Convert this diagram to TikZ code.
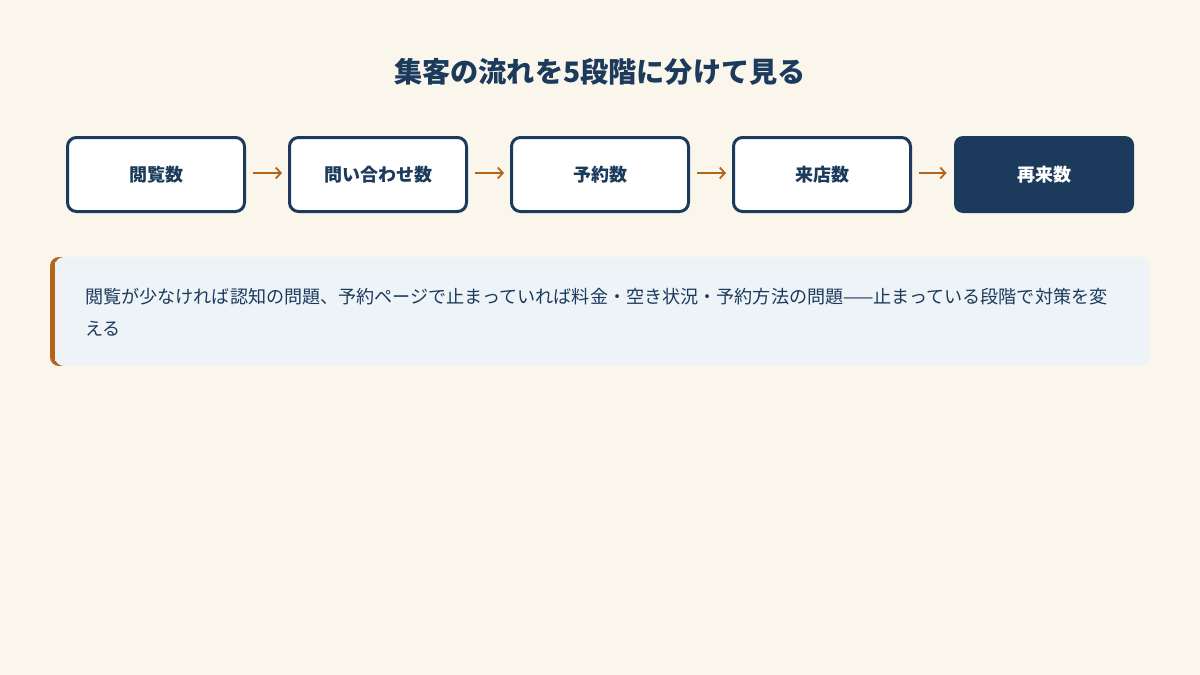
\documentclass[tikz,border=0pt]{standalone}
\usepackage{fontspec}
\setmainfont{Noto Sans CJK JP}
\usetikzlibrary{arrows.meta}
\definecolor{bgc}{HTML}{FAF6EC}
\definecolor{navy}{HTML}{1B3A5C}
\definecolor{orng}{HTML}{B5651A}
\definecolor{callbg}{HTML}{EEF3F8}
\tikzset{
  stagebox/.style={draw=navy, line width=3pt, fill=white, rounded corners=9pt,
    minimum width=177pt, minimum height=74pt, inner sep=0pt,
    font=\fontsize{18pt}{20pt}\selectfont\bfseries, text=navy},
  lastbox/.style={stagebox, draw=none, fill=navy, text=white,
    minimum width=180pt, minimum height=77pt},
  flowarrow/.style={draw=orng, line width=1.8pt, -{Straight Barb[length=5pt,width=11pt,line width=1.8pt]}},
}
\begin{document}
\begin{tikzpicture}[x=1pt,y=-1pt]
\fill[bgc] (0,0) rectangle (1200,675);
\useasboundingbox (0,0) rectangle (1200,675);
\node[font=\fontsize{28.2pt}{32pt}\selectfont\bfseries, text=navy] (title) at (600,71.5) {集客の流れを5段階に分けて見る};
\node[stagebox] (s1) at (156,174.5) {閲覧数};
\node[stagebox] (s2) at (378,174.5) {問い合わせ数};
\node[stagebox] (s3) at (600,174.5) {予約数};
\node[stagebox] (s4) at (822,174.5) {来店数};
\node[lastbox] (s5) at (1044,174.5) {再来数};
\foreach \a/\b in {s1/s2,s2/s3,s3/s4,s4/s5}{
  \draw[flowarrow] ([xshift=7pt,yshift=1.5pt]\a.east) -- ([xshift=-6pt,yshift=1.5pt]\b.west);
}
% callout
\fill[orng, rounded corners=9pt] (50,257) rectangle (70,366);
\fill[callbg, rounded corners=9pt] (55,257) rectangle (1150,366);
\fill[callbg] (55,262) rectangle (65,361);
\node[anchor=north west, align=left, inner sep=0pt, text=navy,
  font=\fontsize{18.1pt}{32pt}\selectfont] (note) at (85,287.5)
  {閲覧が少なければ認知の問題、予約ページで止まっていれば料金・空き状況・予約方法の問題——止まっている段階で対策を変\\える};
\end{tikzpicture}
\end{document}
